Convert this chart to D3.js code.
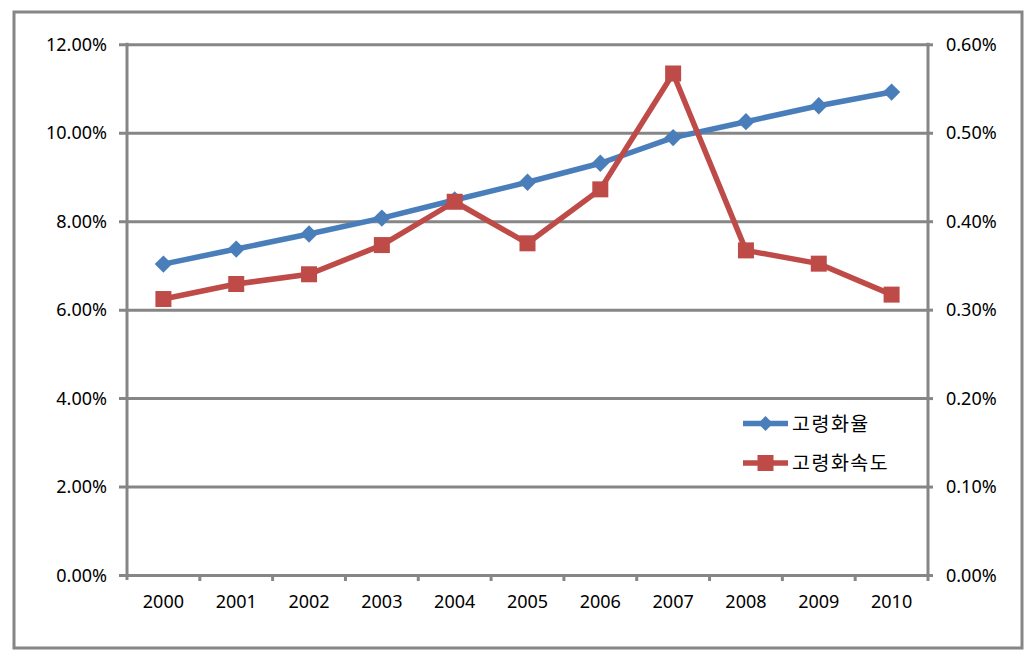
<!DOCTYPE html>
<html><head><meta charset="utf-8">
<script src="https://cdn.jsdelivr.net/npm/d3@7"></script>
<style>body{margin:0;background:#fff}svg{display:block}text{font-family:"Noto Sans","Noto Sans CJK KR",sans-serif;fill:#000}</style>
</head><body><svg id="c" width="1033" height="656"></svg>
<script>
const years = ["2000","2001","2002","2003","2004","2005","2006","2007","2008","2009","2010"];
const agingRate = [7.03,7.37,7.71,8.07,8.48,8.88,9.31,9.89,10.25,10.61,10.92];
const agingSpeed = [0.312,0.329,0.340,0.373,0.422,0.375,0.436,0.567,0.367,0.352,0.317];
const leftTicks = [0,2,4,6,8,10,12];
const rightTicks = [0,0.1,0.2,0.3,0.4,0.5,0.6];
const seriesNames = ["고령화율","고령화속도"];

const svg = d3.select("#c");
const gray = "#868686", blue = "#4A7EBB", red = "#BE4B48";
const L = 127, R = 928, T = 44.3, B = 575;
const fs = 18;

svg.append("rect").attr("x",14).attr("y",12).attr("width",1008).attr("height",636)
  .attr("fill","none").attr("stroke",gray).attr("stroke-width",3);

const x = d3.scaleBand().domain(years).range([L,R]);
const yL = d3.scaleLinear().domain([0,12]).range([B,T]);
const yR = d3.scaleLinear().domain([0,0.6]).range([B,T]);

const gl = svg.append("g").attr("transform",`translate(${L},0)`)
  .call(d3.axisLeft(yL).tickValues(leftTicks).tickSize(8).tickSizeInner(-(R-L)).tickFormat(d=>d.toFixed(2)+"%"));
gl.select(".domain").remove();
gl.selectAll(".tick line").attr("stroke",gray).attr("stroke-width",3).attr("x1",-8);
gl.selectAll(".tick text").attr("x",-20).attr("font-size",fs).attr("dy","0.34em");

const gr = svg.append("g").attr("transform",`translate(${R},0)`)
  .call(d3.axisRight(yR).tickValues(rightTicks).tickSize(5).tickFormat(d=>d.toFixed(2)+"%"));
gr.select(".domain").remove();
gr.selectAll(".tick line").attr("stroke",gray).attr("stroke-width",3);
gr.selectAll(".tick text").attr("x",18).attr("font-size",fs).attr("dy","0.34em");

svg.append("line").attr("x1",L).attr("x2",L).attr("y1",T-1.5).attr("y2",B+5).attr("stroke",gray).attr("stroke-width",3);
svg.append("line").attr("x1",R).attr("x2",R).attr("y1",T-1.5).attr("y2",B+1.5).attr("stroke",gray).attr("stroke-width",3);

const gb = svg.append("g").attr("transform",`translate(0,${B})`)
  .call(d3.axisBottom(x).tickSize(0));
gb.select(".domain").attr("stroke",gray).attr("stroke-width",3);
gb.selectAll(".tick text").attr("font-size",fs).attr("y",20).attr("dy","0.71em");
svg.append("g").selectAll("line").data(years.slice(1)).join("line")
  .attr("x1",d=>x(d)).attr("x2",d=>x(d)).attr("y1",B).attr("y2",B+6)
  .attr("stroke",gray).attr("stroke-width",3);
svg.append("line").attr("x1",R).attr("x2",R).attr("y1",B).attr("y2",B+6).attr("stroke",gray).attr("stroke-width",3);

const cx = d => x(d) + x.bandwidth()/2;
const lineL = d3.line().x((d,i)=>cx(years[i])).y(d=>yL(d));
const lineR = d3.line().x((d,i)=>cx(years[i])).y(d=>yR(d));

svg.append("path").attr("d",lineL(agingRate)).attr("fill","none").attr("stroke",blue).attr("stroke-width",5.5).attr("stroke-linejoin","round");
svg.append("g").selectAll("path").data(agingRate).join("path")
  .attr("d",d3.symbol(d3.symbolSquare,150)())
  .attr("transform",(d,i)=>`translate(${cx(years[i])},${yL(d)}) rotate(45)`).attr("fill",blue);

svg.append("path").attr("d",lineR(agingSpeed)).attr("fill","none").attr("stroke",red).attr("stroke-width",5.5).attr("stroke-linejoin","round");
svg.append("g").selectAll("rect").data(agingSpeed).join("rect")
  .attr("x",(d,i)=>cx(years[i])-8).attr("y",d=>yR(d)-8).attr("width",16).attr("height",16).attr("fill",red);

const lg = svg.append("g");
const ly = [423.5, 463];
const cols = [blue, red];
seriesNames.forEach((n,i)=>{
  lg.append("line").attr("x1",743).attr("x2",788).attr("y1",ly[i]).attr("y2",ly[i]).attr("stroke",cols[i]).attr("stroke-width",5.5);
  if(i===0) lg.append("path").attr("d",d3.symbol(d3.symbolSquare,110)()).attr("transform",`translate(765.5,${ly[i]}) rotate(45)`).attr("fill",blue);
  else lg.append("rect").attr("x",757.5).attr("y",ly[i]-8).attr("width",16).attr("height",16).attr("fill",red);
  lg.append("text").attr("x",792).attr("y",ly[i]).attr("dy","0.36em").attr("font-size",19.5)
    .attr("letter-spacing",1.5).style("font-family","'Noto Sans CJK KR',sans-serif").text(n);
});
</script></body></html>
